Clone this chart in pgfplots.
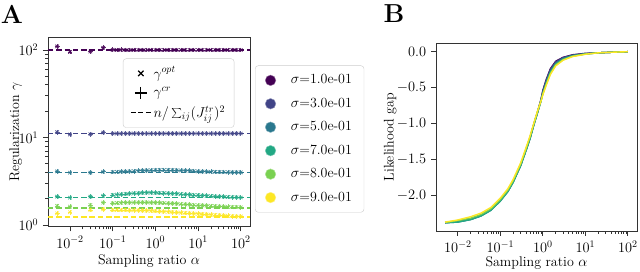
\documentclass[border=0pt]{standalone}
\usepackage{pgfplots}
\pgfplotsset{compat=1.18}
\usepackage{pgfplotstable}
\definecolor{c1}{RGB}{68,1,84}
\definecolor{c2}{RGB}{65,68,135}
\definecolor{c3}{RGB}{42,120,142}
\definecolor{c4}{RGB}{34,168,132}
\definecolor{c5}{RGB}{122,209,81}
\definecolor{c6}{RGB}{253,231,37}

\pgfplotstableread{
a s1 s2 s3 s4 s5 s6
0.005 110 11.5 4.10 2.11 1.65 1.36
0.01 95 10.8 3.96 2.05 1.62 1.40
0.03 96 10.9 3.96 2.11 1.69 1.48
0.06 106 11.4 4.05 2.15 1.80 1.51
0.1 100.5 11.1 4.02 2.20 1.77 1.48
0.126 100 11.1 4.04 2.22 1.78 1.48
0.158 100.3 11.1 4.06 2.24 1.79 1.48
0.2 99.8 11.1 4.08 2.26 1.80 1.48
0.251 100 11.1 4.10 2.28 1.80 1.47
0.316 100.2 11.1 4.12 2.30 1.81 1.47
0.398 100 11.1 4.15 2.31 1.81 1.47
0.501 99.9 11.1 4.18 2.33 1.81 1.46
0.631 100 11.1 4.20 2.34 1.81 1.46
0.794 100.1 11.1 4.22 2.34 1.80 1.45
1 100 11.1 4.24 2.33 1.80 1.44
1.26 100 11.1 4.25 2.32 1.79 1.43
1.58 100 11.1 4.25 2.31 1.78 1.42
2 100 11.1 4.25 2.30 1.77 1.41
2.51 100 11.1 4.24 2.28 1.76 1.40
3.16 100 11.1 4.22 2.27 1.75 1.39
3.98 100 11.1 4.20 2.25 1.73 1.38
5.01 100 11.1 4.18 2.23 1.72 1.37
6.31 100 11.1 4.15 2.22 1.71 1.36
7.94 100 11.1 4.13 2.20 1.69 1.35
10 100 11.1 4.10 2.19 1.68 1.34
12.6 100 11.1 4.08 2.17 1.67 1.33
15.8 100 11.1 4.06 2.15 1.66 1.32
20 100 11.1 4.05 2.14 1.65 1.31
25.1 100 11.1 4.04 2.12 1.64 1.30
31.6 100 11.1 4.03 2.11 1.63 1.29
39.8 100 11.1 4.02 2.10 1.62 1.28
50.1 100 11.1 4.01 2.09 1.61 1.27
63.1 100 11.1 4.00 2.08 1.60 1.26
79.4 100 11.1 4.00 2.07 1.60 1.25
100 100 11.1 4.00 2.06 1.59 1.25
}\tabA

\pgfplotstableread{
a s1 s2 s3 s4 s5 s6
0.003055 100 11.111 4 2.041 1.5625 1.2346
164 100 11.111 4 2.041 1.5625 1.2346
}\tabRef

\pgfplotstableread{
a b1 b2 b3 b4 b5 b6
0.005 -2.382 -2.382 -2.385 -2.385 -2.38 -2.375
0.01 -2.365 -2.365 -2.375 -2.375 -2.355 -2.345
0.02 -2.33 -2.33 -2.34 -2.34 -2.32 -2.30
0.035 -2.28 -2.28 -2.29 -2.29 -2.27 -2.25
0.06 -2.20 -2.20 -2.21 -2.21 -2.19 -2.17
0.1 -2.07 -2.07 -2.08 -2.08 -2.06 -2.04
0.15 -1.94 -1.94 -1.95 -1.95 -1.93 -1.91
0.2 -1.81 -1.81 -1.82 -1.82 -1.80 -1.78
0.3 -1.58 -1.58 -1.59 -1.59 -1.57 -1.55
0.4 -1.37 -1.37 -1.38 -1.38 -1.36 -1.34
0.5 -1.20 -1.20 -1.21 -1.21 -1.19 -1.17
0.6 -1.03 -1.03 -1.04 -1.04 -1.025 -1.015
0.75 -0.84 -0.84 -0.85 -0.85 -0.835 -0.825
0.9 -0.67 -0.675 -0.69 -0.69 -0.69 -0.69
1.0 -0.54 -0.55 -0.57 -0.58 -0.59 -0.60
1.2 -0.39 -0.40 -0.425 -0.44 -0.455 -0.47
1.5 -0.24 -0.25 -0.275 -0.29 -0.305 -0.32
2 -0.135 -0.145 -0.165 -0.175 -0.185 -0.20
3 -0.08 -0.085 -0.095 -0.105 -0.115 -0.12
5 -0.045 -0.05 -0.055 -0.06 -0.065 -0.07
10 -0.025 -0.028 -0.033 -0.033 -0.036 -0.038
20 -0.018 -0.018 -0.018 -0.018 -0.018 -0.018
50 -0.008 -0.008 -0.008 -0.008 -0.008 -0.008
100 -0.002 -0.002 -0.002 -0.002 -0.002 -0.002
}\tabB

\begin{document}
\fontsize{14}{17}\selectfont
\begin{tikzpicture}
\useasboundingbox (0,0) rectangle (640pt,272pt);
\node[font=\fontsize{26}{28}\selectfont\bfseries] at (12pt,258pt) {A};
\node[font=\fontsize{26}{28}\selectfont\bfseries] at (394pt,258pt) {B};

\begin{axis}[
  scale only axis,
  xmode=log, ymode=log,
  xmin=0.003055, xmax=164,
  xtick={0.01,0.1,1,10,100},
  tick align=outside,
  major tick length=5pt,
  minor tick length=2.8pt,
  every tick/.append style={black!80, line width=0.8pt},
  axis line style={black!80, line width=0.9pt},
  xlabel={Sampling ratio $\alpha$},
  xlabel shift=-3pt,
  ylabel shift=-13pt,
  xtick pos=left, ytick pos=left,
  at={(48pt,45.5pt)}, anchor=south west,
  width=202pt, height=189pt,
  ymin=0.96, ymax=139,
  ytick={1,10,100},
  ylabel={Regularization $\gamma$},
  legend style={at={(1.025,0.852)}, anchor=north west, draw=black!20, rounded corners=3pt,
    font=\fontsize{14}{17}\selectfont, row sep=8pt, inner xsep=10pt, inner ysep=7pt,
    /tikz/every odd column/.append style={column sep=13pt}},
  legend image code/.code={\draw[#1] plot coordinates {(5.5pt,0pt)};},
  legend cell align=left,
]
\pgfplotsinvokeforeach{1,...,6}{
  \addplot[forget plot, only marks, mark=x, mark size=2.4pt, line width=0.8pt, color=c#1, opacity=0.85] table[x=a,y=s#1]{\tabA};
  \addplot[forget plot, only marks, mark=+, mark size=2.4pt, line width=0.8pt, color=c#1, opacity=0.85] table[x=a,y=s#1]{\tabA};
  \addplot[forget plot, c#1, line width=1.3pt, dash pattern=on 5.5pt off 2.8pt] table[x=a,y=s#1]{\tabRef};
}
\addlegendimage{only marks, mark=*, mark size=5.3pt, fill=c1, draw=c1!55!white}
\addlegendentry{$\sigma$=1.0e-01}
\addlegendimage{only marks, mark=*, mark size=5.3pt, fill=c2, draw=c2!55!white}
\addlegendentry{$\sigma$=3.0e-01}
\addlegendimage{only marks, mark=*, mark size=5.3pt, fill=c3, draw=c3!55!white}
\addlegendentry{$\sigma$=5.0e-01}
\addlegendimage{only marks, mark=*, mark size=5.3pt, fill=c4, draw=c4!55!white}
\addlegendentry{$\sigma$=7.0e-01}
\addlegendimage{only marks, mark=*, mark size=5.3pt, fill=c5, draw=c5!55!white}
\addlegendentry{$\sigma$=8.0e-01}
\addlegendimage{only marks, mark=*, mark size=5.3pt, fill=c6, draw=c6!55!white}
\addlegendentry{$\sigma$=9.0e-01}
\end{axis}

\begin{axis}[
  at={(48pt,45.5pt)}, anchor=south west,
  width=202pt, height=189pt, scale only axis,
  xmin=0, xmax=1, ymin=0, ymax=1,
  hide axis,
  legend style={at={(0.371,0.889)}, anchor=north west, draw=black!20, rounded corners=3pt,
    font=\fontsize{14.5}{16}\selectfont, row sep=3pt, inner xsep=7pt, inner ysep=6pt},
  legend image code/.code={\draw[mark repeat=2,mark phase=2,#1] plot coordinates {(0pt,0pt)(10pt,0pt)(20pt,0pt)};},
  legend cell align=left,
]
\addlegendimage{only marks, mark=x, mark size=3.8pt, line width=1.2pt, black}
\addlegendentry{$\gamma^{opt}$}
\addlegendimage{only marks, mark=+, mark size=6pt, line width=1.2pt, black}
\addlegendentry{$\gamma^{cr}$}
\addlegendimage{black, line width=1.4pt, dash pattern=on 5pt off 2.5pt}
\addlegendentry{$n/\sum_{ij}(J^{tr}_{ij})^2$}
\end{axis}

\begin{axis}[
  scale only axis,
  xmode=log,
  xmin=0.003055, xmax=164,
  xtick={0.01,0.1,1,10,100},
  tick align=outside,
  major tick length=5pt,
  minor tick length=2.8pt,
  every tick/.append style={black!80, line width=0.8pt},
  axis line style={black!80, line width=0.9pt},
  xlabel={Sampling ratio $\alpha$},
  xlabel shift=-5pt,
  ylabel shift=-9pt,
  xtick pos=left, ytick pos=left,
  at={(436pt,41pt)}, anchor=south west,
  width=201pt, height=188pt,
  ymin=-2.499, ymax=0.119,
  ytick={-2,-1.5,-1,-0.5,0},
  yticklabel style={/pgf/number format/fixed, /pgf/number format/fixed zerofill, /pgf/number format/precision=1},
  ylabel={Likelihood gap},
]
\pgfplotsinvokeforeach{1,...,6}{
  \addplot[c#1, line width=1.4pt] table[x=a,y=b#1]{\tabB};
}
\end{axis}
\end{tikzpicture}
\end{document}
